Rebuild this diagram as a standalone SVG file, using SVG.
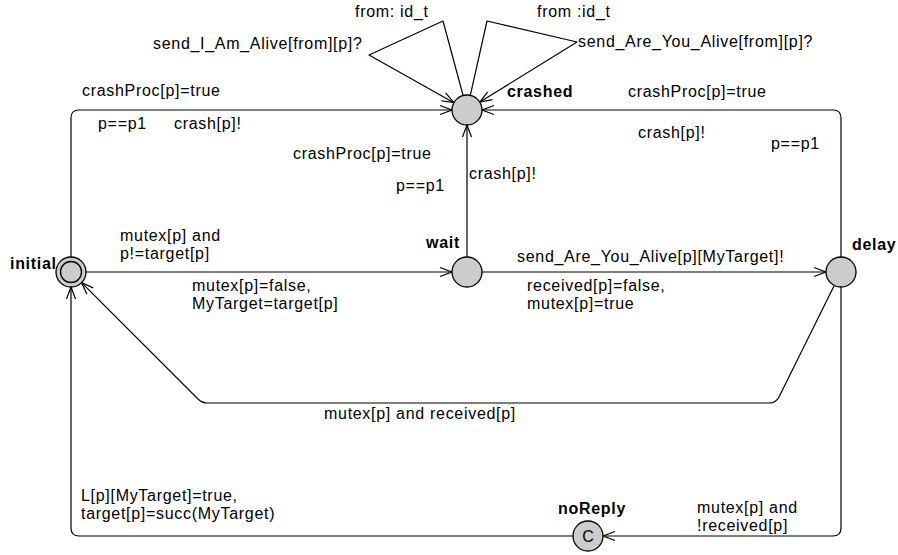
<svg xmlns="http://www.w3.org/2000/svg" width="898" height="555" viewBox="0 0 898 555">
<style>
.n{fill:#cccccc;stroke:#000;stroke-width:1.3}
.e{fill:none;stroke:#000;stroke-width:1.2;stroke-linejoin:round}
text{font-family:"Liberation Sans",Arial,sans-serif;font-size:16px;letter-spacing:0.7px;fill:#000}
.b{font-weight:bold}
</style>
<defs>
<marker id="ah" markerUnits="userSpaceOnUse" markerWidth="16" markerHeight="12" viewBox="-14 -6 16 12" refX="0" refY="0" orient="auto">
<path d="M-12,-4.5 L0,0 L-12,4.5" fill="none" stroke="#000" stroke-width="1.2"/>
</marker>
</defs>
<rect width="898" height="555" fill="#fff"/>
<g id="connectors">
<path class="e" d="M71,257 L71,118 Q71,110 79,110 L452,110" marker-end="url(#ah)"/>
<path class="e" d="M841,257 L841,118 Q841,110 833,110 L482,110" marker-end="url(#ah)"/>
<path class="e" d="M467,257 L467,125" marker-end="url(#ah)"/>
<path class="e" d="M86,272 L452,272" marker-end="url(#ah)"/>
<path class="e" d="M482,272 L826,272" marker-end="url(#ah)"/>
<path class="e" d="M834,286 L779,397 Q776,403 769,403 L207,403 Q202,403 198,399 L81.6,282.6" marker-end="url(#ah)"/>
<path class="e" d="M841,287 L841,528 Q841,536 833,536 L603,536" marker-end="url(#ah)"/>
<path class="e" d="M573,536 L79,536 Q71,536 71,528 L71,287" marker-end="url(#ah)"/>
<path class="e" d="M463.1,95.5 L443,21 L369,55 L453.9,102.7" marker-end="url(#ah)"/>
<path class="e" d="M470.3,95.4 L487,21 L577,42 L479.8,102.1" marker-end="url(#ah)"/>
</g>
<g id="crashed"><circle class="n" cx="467" cy="110" r="15"/><text class="b" x="507" y="97">crashed</text></g>
<g id="initial"><circle class="n" cx="71" cy="272" r="15"/><circle class="n" cx="71" cy="272" r="10.5"/><text class="b" x="10" y="269">initial</text></g>
<g id="wait"><circle class="n" cx="467" cy="272" r="15"/><text class="b" x="426" y="248">wait</text></g>
<g id="delay"><circle class="n" cx="841" cy="272" r="15"/><text class="b" x="852" y="250">delay</text></g>
<g id="noReply"><circle class="n" cx="588" cy="536" r="15"/><text x="588" y="542" text-anchor="middle" style="letter-spacing:0">C</text><text class="b" x="558" y="514">noReply</text></g>
<g id="labels">
<text x="355" y="17">from: id_t</text>
<text x="537" y="17">from :id_t</text>
<text x="153" y="49">send_I_Am_Alive[from][p]?</text>
<text x="578" y="47">send_Are_You_Alive[from][p]?</text>
<text x="82" y="96">crashProc[p]=true</text>
<text x="628" y="97">crashProc[p]=true</text>
<text x="98" y="129">p==p1</text>
<text x="174" y="129">crash[p]!</text>
<text x="638" y="138">crash[p]!</text>
<text x="771" y="149">p==p1</text>
<text x="293" y="159">crashProc[p]=true</text>
<text x="396" y="191">p==p1</text>
<text x="469" y="179">crash[p]!</text>
<text x="120" y="241">mutex[p] and</text>
<text x="120" y="259">p!=target[p]</text>
<text x="517" y="262">send_Are_You_Alive[p][MyTarget]!</text>
<text x="192" y="291">mutex[p]=false,</text>
<text x="192" y="309">MyTarget=target[p]</text>
<text x="527" y="291">received[p]=false,</text>
<text x="527" y="309">mutex[p]=true</text>
<text x="324" y="419">mutex[p] and received[p]</text>
<text x="81" y="501">L[p][MyTarget]=true,</text>
<text x="81" y="519">target[p]=succ(MyTarget)</text>
<text x="697" y="513">mutex[p] and</text>
<text x="697" y="531">!received[p]</text>
</g>
</svg>
